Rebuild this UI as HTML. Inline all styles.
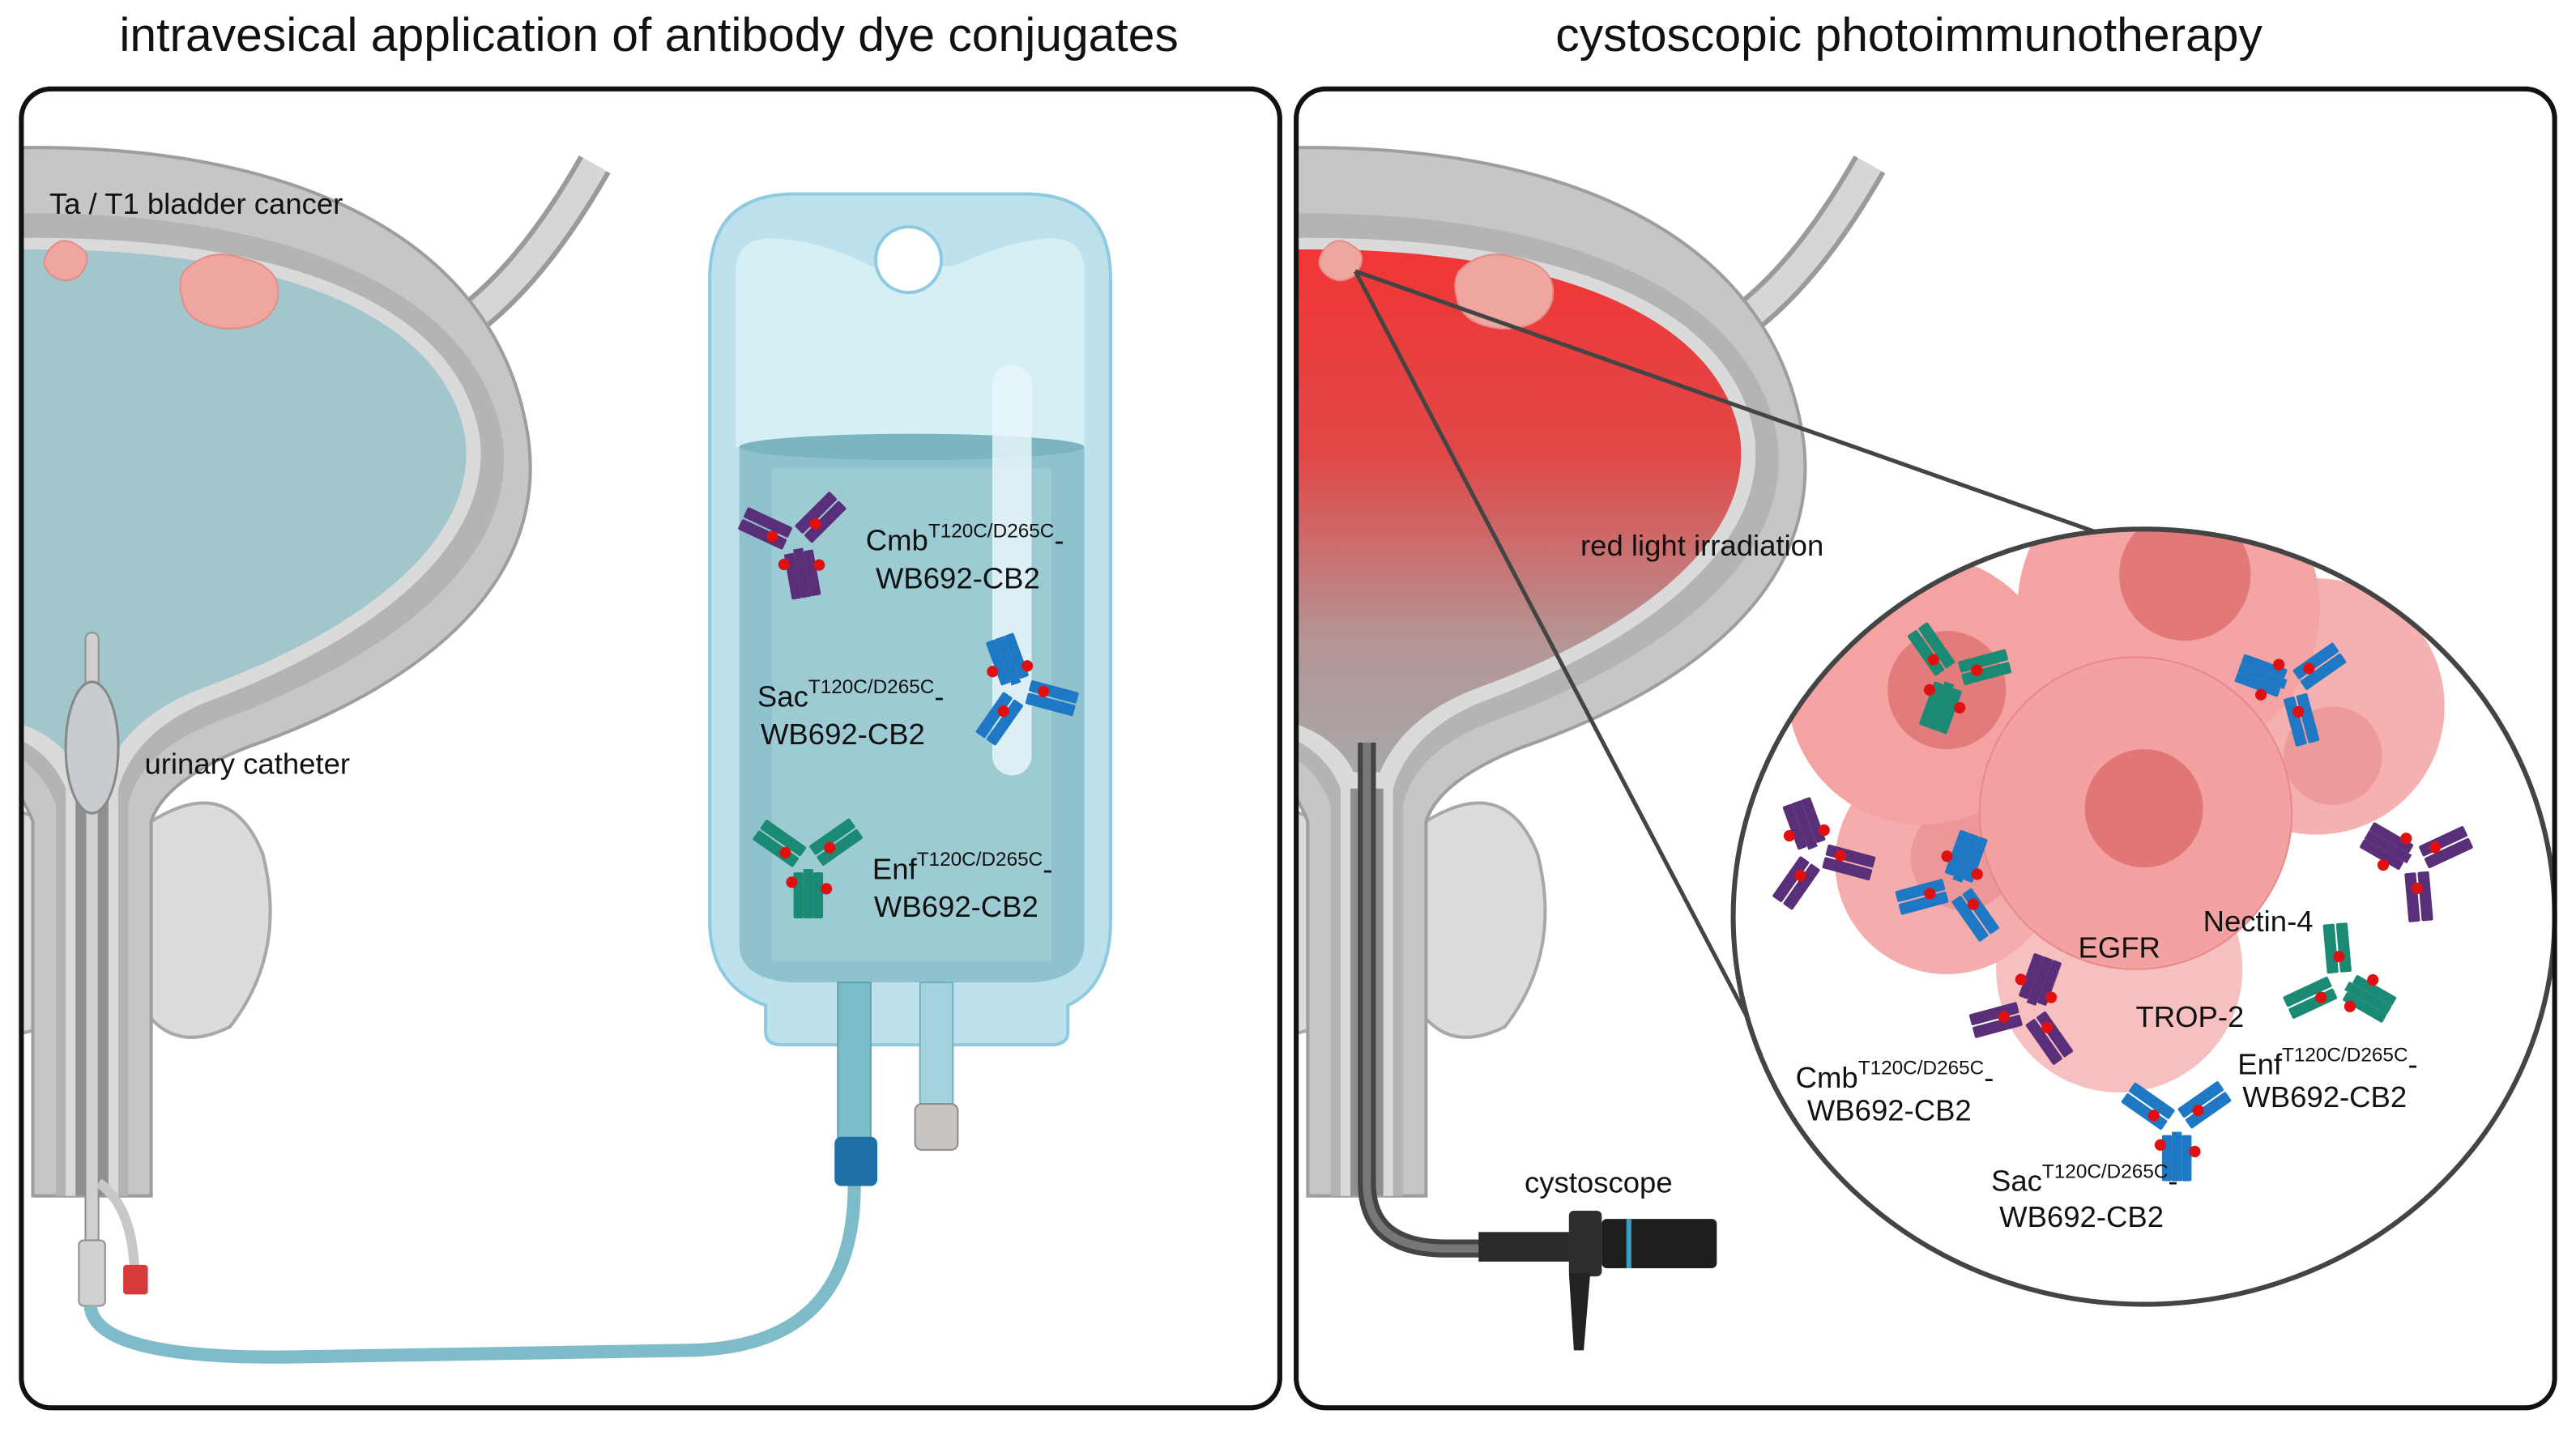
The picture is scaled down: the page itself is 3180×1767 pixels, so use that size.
<!DOCTYPE html>
<html><head><meta charset="utf-8"><style>
html,body{margin:0;padding:0;background:#fff;}
svg{display:block;}
text{font-family:"Liberation Sans",Arial,sans-serif;fill:#111;}
</style></head><body>
<svg width="3180" height="1767" viewBox="0 0 1568 871" xmlns="http://www.w3.org/2000/svg">
<defs>
<g id="ab">
  <rect x="-3" y="4" width="6" height="30" fill="currentColor"/>
  <rect x="-9" y="6" width="6" height="28" rx="1" fill="currentColor"/>
  <rect x="3" y="6" width="6" height="28" rx="1" fill="currentColor"/>
  <g transform="rotate(-55)"><rect x="-8" y="-36" width="7" height="30" rx="1" fill="currentColor"/><rect x="0" y="-36" width="7" height="30" rx="1" fill="currentColor"/></g>
  <g transform="rotate(55)"><rect x="-8" y="-36" width="7" height="30" rx="1" fill="currentColor"/><rect x="0" y="-36" width="7" height="30" rx="1" fill="currentColor"/></g>
  <circle cx="-14" cy="-6" r="3.5" fill="#e01010"/><circle cx="13" cy="-9" r="3.5" fill="#e01010"/>
  <circle cx="-10" cy="12" r="3.5" fill="#e01010"/><circle cx="11" cy="16" r="3.5" fill="#e01010"/>
</g>
<linearGradient id="red" x1="0" y1="0" x2="0" y2="1">
  <stop offset="0" stop-color="#f23535"/><stop offset="0.4" stop-color="#e04848"/><stop offset="0.75" stop-color="#b59595"/><stop offset="1" stop-color="#a8a8a8"/>
</linearGradient>
<clipPath id="cl1"><rect x="14" y="55" width="764" height="801" rx="18"/></clipPath>
<clipPath id="cl2"><rect x="790" y="55" width="764" height="801" rx="18"/></clipPath>
<clipPath id="circ"><ellipse cx="1305" cy="558" rx="250" ry="236"/></clipPath>
<g id="bladder">
  <path d="M285,195 Q325,165 362,100" stroke="#9a9a9a" stroke-width="22" fill="none"/>
  <path d="M285,195 Q325,165 362,100" stroke="#d6d6d6" stroke-width="16" fill="none"/>
  <path d="M92,500 Q140,470 160,520 Q175,580 140,625 Q110,640 92,620 Z" fill="#dcdcdc" stroke="#a8a8a8" stroke-width="2"/>
  <path d="M0,490 L30,500 L30,625 L0,632 Z" fill="#dcdcdc" stroke="#a8a8a8" stroke-width="2"/>
  <path d="M0,90 C170,85 305,140 322,270 C332,360 250,420 150,455 Q100,475 92,500 L92,728 L20,728 L20,500 Q12,480 0,470 Z" fill="#c6c6c6" stroke="#9e9e9e" stroke-width="2"/>
  <path d="M0,130 C160,126 290,170 306,268 C315,340 240,400 130,440 Q85,458 78,490 L78,728 L34,728 L34,490 Q25,465 0,455 Z" fill="#b4b4b4"/>
  <path d="M0,145 C160,141 278,180 292,266 C300,330 232,388 124,428 Q82,446 72,480 L72,728 L40,728 L40,480 Q30,455 0,445 Z" fill="#dadada"/>
  <rect x="46" y="480" width="20" height="248" fill="#8f8f8f"/>
</g>
<path id="inner" d="M0,152 C155,148 268,186 283,265 C292,326 226,382 120,420 Q78,437 64,470 L48,470 Q36,445 0,437 Z"/>
</defs>

<text x="395" y="31" font-size="29" text-anchor="middle">intravesical application of antibody dye conjugates</text>
<text x="1162" y="31" font-size="29" text-anchor="middle">cystoscopic photoimmunotherapy</text>

<!-- LEFT PANEL -->
<g clip-path="url(#cl1)">
  <use href="#bladder"/>
  <use href="#inner" fill="#a1c6cc"/>
  <path d="M30,152 q8,-10 18,-2 q10,6 0,18 q-10,6 -18,-2 q-6,-6 0,-14z" fill="#f0a6a0" stroke="#e08f88"/>
  <path d="M112,165 q15,-15 35,-8 q25,5 22,25 q-5,18 -30,18 q-25,-2 -28,-18 q-3,-10 1,-17z" fill="#f0a6a0" stroke="#e08f88"/>
  <rect x="52" y="385" width="8" height="400" rx="4" fill="#d0d0d0" stroke="#909090" stroke-width="1"/>
  <ellipse cx="56" cy="455" rx="16" ry="40" fill="#c8ccd0" stroke="#888" stroke-width="1.5"/>
  <path d="M60,720 Q82,735 82,780" stroke="#c8c8c8" stroke-width="6" fill="none"/>
  <rect x="48" y="755" width="16" height="40" rx="3" fill="#d0d0d0" stroke="#909090"/>
  <rect x="75" y="770" width="15" height="18" rx="2" fill="#d63a3a"/>
  <path d="M55,795 Q58,828 180,826 L420,822 Q520,820 520,722" stroke="#7dbcc8" stroke-width="8" fill="none"/>
</g>
<text x="30" y="130" font-size="18">Ta / T1 bladder cancer</text>
<text x="88" y="471" font-size="18">urinary catheter</text>

<!-- IV bag -->
<path d="M432,170 Q432,120 480,118 L628,118 Q676,120 676,170 L676,560 Q676,600 650,612 L650,628 Q650,636 640,636 L476,636 Q466,636 466,628 L466,612 Q432,600 432,560 Z" fill="#bde2ee" stroke="#8fcbe0" stroke-width="2"/>
<path d="M448,165 Q448,145 470,145 Q500,146 530,162 L580,162 Q615,146 640,145 Q660,145 660,165 L660,272 L448,272 Z" fill="#d6eff5"/>
<circle cx="553" cy="158" r="20" fill="#fff" stroke="#8fcbe0" stroke-width="2"/>
<path d="M450,272 L660,272 L660,575 Q660,595 630,598 L480,598 Q450,595 450,575 Z" fill="#8fc2cc"/>
<ellipse cx="555" cy="272" rx="105" ry="8" fill="#7bb5c0"/>
<rect x="470" y="285" width="170" height="300" fill="#a6d1d8" opacity="0.6"/>
<rect x="604" y="222" width="24" height="250" rx="12" fill="#e8f6f9" opacity="0.85"/>
<rect x="510" y="598" width="20" height="95" fill="#7cbdca" stroke="#5ea3b2"/>
<rect x="560" y="598" width="20" height="78" fill="#a4d3dd" stroke="#6fb1c0"/>
<rect x="508" y="692" width="26" height="30" rx="4" fill="#1d6fa6"/>
<rect x="557" y="672" width="26" height="28" rx="4" fill="#c8c4c2" stroke="#8a8a8a"/>

<use href="#ab" x="485" y="330" color="#5a2f7a" transform="rotate(-10 485 330)"/>
<use href="#ab" x="620" y="420" color="#1f78c4" transform="rotate(160 620 420)"/>
<use href="#ab" x="492" y="525" color="#1a8a74"/>

<text x="527" y="335" font-size="18">Cmb<tspan font-size="12" dy="-8">T120C/D265C</tspan><tspan dy="8">-</tspan></text>
<text x="533" y="358" font-size="18">WB692-CB2</text>
<text x="461" y="430" font-size="18">Sac<tspan font-size="12" dy="-8">T120C/D265C</tspan><tspan dy="8">-</tspan></text>
<text x="463" y="453" font-size="18">WB692-CB2</text>
<text x="531" y="535" font-size="18">Enf<tspan font-size="12" dy="-8">T120C/D265C</tspan><tspan dy="8">-</tspan></text>
<text x="532" y="558" font-size="18">WB692-CB2</text>

<!-- RIGHT PANEL -->
<g clip-path="url(#cl2)">
  <g transform="translate(776,0)"><use href="#bladder"/>
    <use href="#inner" fill="url(#red)"/>
    <path d="M30,152 q8,-10 18,-2 q10,6 0,18 q-10,6 -18,-2 q-6,-6 0,-14z" fill="#f0a6a0" stroke="#e08f88"/>
    <path d="M112,165 q15,-15 35,-8 q25,5 22,25 q-5,18 -30,18 q-25,-2 -28,-18 q-3,-10 1,-17z" fill="#f0a6a0" stroke="#e08f88"/>
  </g>
  <path d="M832,452 L832,720 Q832,760 880,760 L905,760" stroke="#444" stroke-width="11" fill="none"/>
  <path d="M832,452 L832,720 Q832,760 880,760 L905,760" stroke="#777" stroke-width="5" fill="none"/>
  <rect x="900" y="750" width="60" height="18" fill="#2a2a2a"/>
  <rect x="955" y="737" width="20" height="40" rx="3" fill="#2e2e2e"/>
  <rect x="975" y="742" width="70" height="30" rx="3" fill="#1e1e1e"/>
  <rect x="990" y="742" width="3" height="30" fill="#3aa0c0"/>
  <path d="M955,775 L968,775 L964,822 L958,822 Z" fill="#222"/>
</g>
<text x="962" y="338" font-size="18">red light irradiation</text>
<text x="928" y="726" font-size="18">cystoscope</text>

<line x1="825" y1="165" x2="1282" y2="326" stroke="#444" stroke-width="2.5"/>
<line x1="825" y1="165" x2="1065" y2="622" stroke="#444" stroke-width="2.5"/>

<ellipse cx="1305" cy="558" rx="250" ry="236" fill="#fff"/>
<g clip-path="url(#circ)">
  <circle cx="1290" cy="590" r="75" fill="#f7c0c0"/>
  <circle cx="1410" cy="430" r="78" fill="#f5b0b0"/>
  <circle cx="1420" cy="460" r="30" fill="#ec9a9a"/>
  <circle cx="1185" cy="525" r="68" fill="#f5acac"/>
  <circle cx="1195" cy="522" r="32" fill="#ec9898"/>
  <circle cx="1170" cy="420" r="82" fill="#f4a2a2"/>
  <circle cx="1185" cy="420" r="36" fill="#e27c7c"/>
  <circle cx="1320" cy="370" r="92" fill="#f4a4a4"/>
  <circle cx="1330" cy="350" r="40" fill="#e27878"/>
  <circle cx="1300" cy="495" r="95" fill="#f3a1a1" stroke="#e88888" stroke-width="1"/>
  <circle cx="1305" cy="492" r="36" fill="#e07676"/>
</g>
<ellipse cx="1305" cy="558" rx="250" ry="236" fill="none" stroke="#444" stroke-width="3"/>

<use href="#ab" x="1188" y="412" color="#1a8a74" transform="rotate(20 1188 412)"/>
<use href="#ab" x="1395" y="418" color="#1f78c4" transform="rotate(110 1395 418)"/>
<use href="#ab" x="1105" y="520" color="#5a2f7a" transform="rotate(160 1105 520)"/>
<use href="#ab" x="1190" y="540" color="#1f78c4" transform="rotate(200 1190 540)"/>
<use href="#ab" x="1470" y="525" color="#5a2f7a" transform="rotate(120 1470 525)"/>
<use href="#ab" x="1235" y="615" color="#5a2f7a" transform="rotate(200 1235 615)"/>
<use href="#ab" x="1425" y="598" color="#1a8a74" transform="rotate(-60 1425 598)"/>
<use href="#ab" x="1325" y="685" color="#1f78c4"/>

<text x="1265" y="583" font-size="18">EGFR</text>
<text x="1341" y="567" font-size="18">Nectin-4</text>
<text x="1300" y="625" font-size="18">TROP-2</text>
<text x="1093" y="662" font-size="18">Cmb<tspan font-size="12" dy="-8">T120C/D265C</tspan><tspan dy="8">-</tspan></text>
<text x="1100" y="682" font-size="18">WB692-CB2</text>
<text x="1362" y="654" font-size="18">Enf<tspan font-size="12" dy="-8">T120C/D265C</tspan><tspan dy="8">-</tspan></text>
<text x="1365" y="674" font-size="18">WB692-CB2</text>
<text x="1212" y="725" font-size="18">Sac<tspan font-size="12" dy="-8">T120C/D265C</tspan><tspan dy="8">-</tspan></text>
<text x="1217" y="747" font-size="18">WB692-CB2</text>

<rect x="13" y="54" width="766" height="803" rx="18" fill="none" stroke="#111" stroke-width="3"/>
<rect x="789" y="54" width="766" height="803" rx="18" fill="none" stroke="#111" stroke-width="3"/>
</svg>
</body></html>
